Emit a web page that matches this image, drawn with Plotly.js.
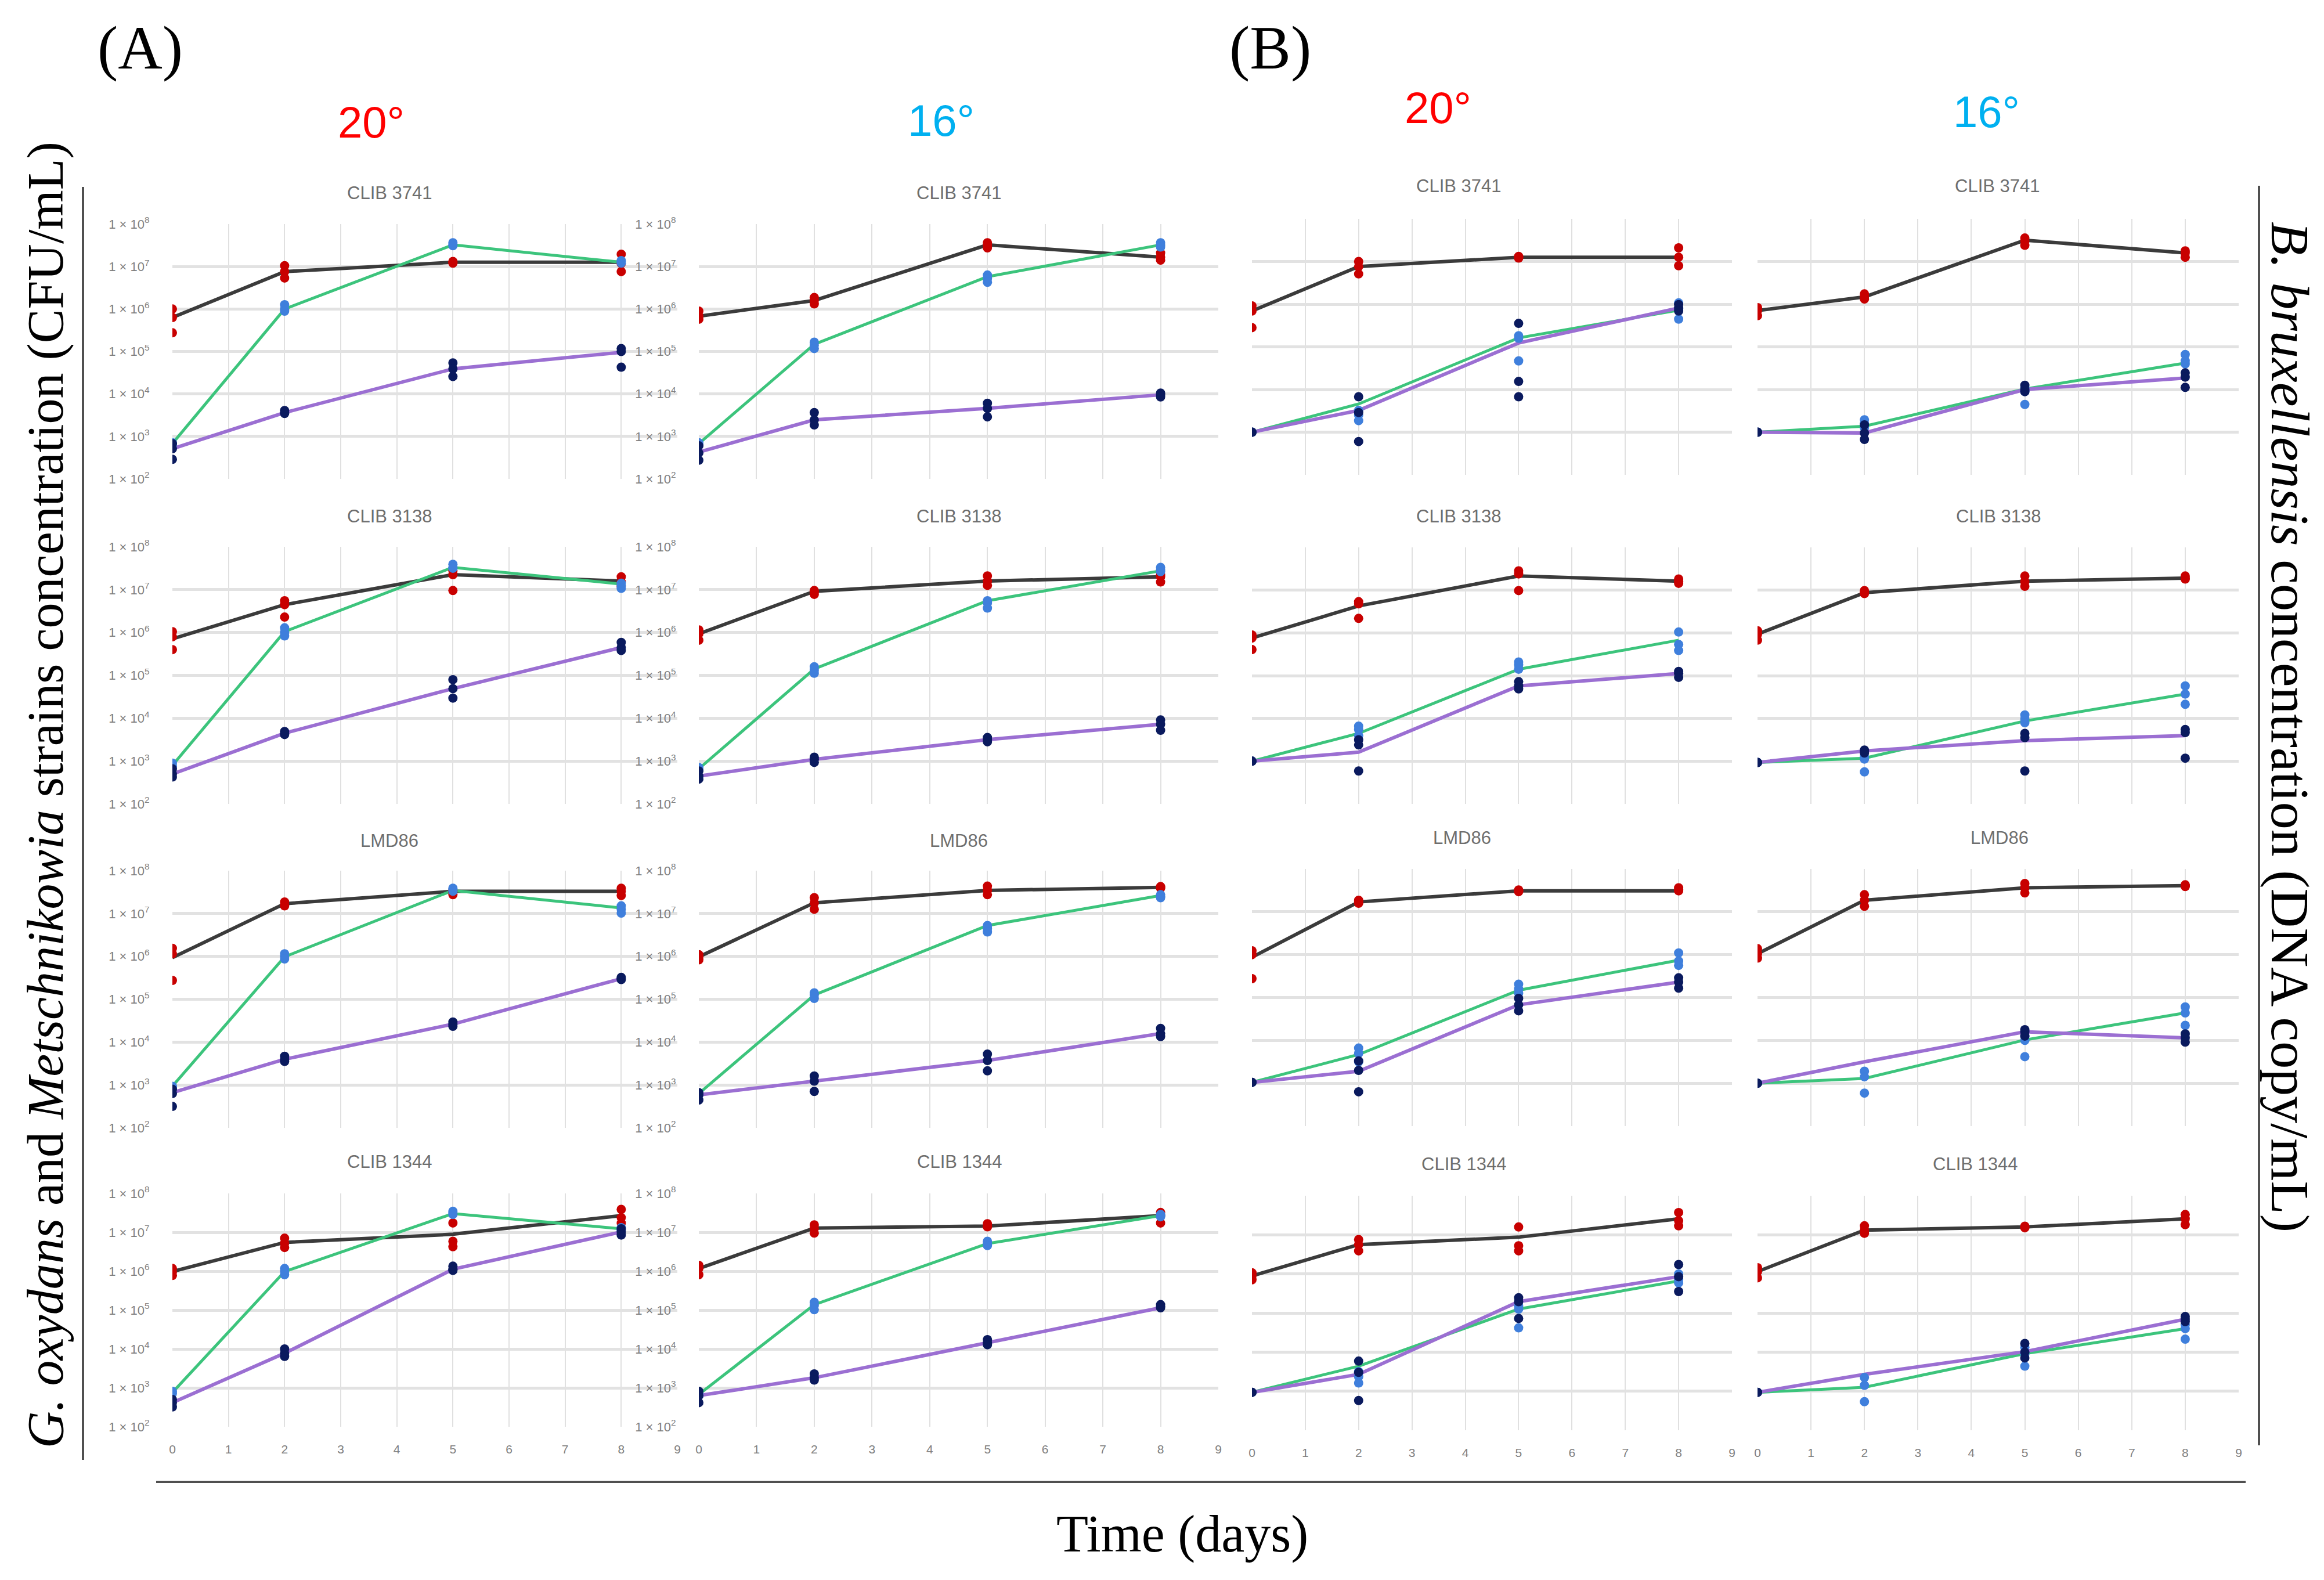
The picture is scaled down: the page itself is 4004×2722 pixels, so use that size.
<!DOCTYPE html>
<html><head><meta charset="utf-8">
<script src="https://cdn.plot.ly/plotly-3.0.1.min.js"></script>
<style>html,body{margin:0;padding:0;background:#fff}</style>
</head><body>
<div id="chart" style="width:4004px;height:2722px"></div>
<script>
// ---------- DATA (values are log10 of concentration) ----------
const days = [0, 2, 5, 8];
const strains = ["CLIB 3741", "CLIB 3138", "LMD86", "CLIB 1344"];
const panelGroups = ["(A)", "(B)"];
const temperatures = ["20°", "16°", "20°", "16°"];
const yTickExp = [2, 3, 4, 5, 6, 7, 8];
const yTickText = ["1 × 10<sup>2</sup>", "1 × 10<sup>3</sup>", "1 × 10<sup>4</sup>", "1 × 10<sup>5</sup>", "1 × 10<sup>6</sup>", "1 × 10<sup>7</sup>", "1 × 10<sup>8</sup>"];
const xTicks = [0, 1, 2, 3, 4, 5, 6, 7, 8, 9];

// Column A 20°
const A20_blackMean = [[5.8,6.88,7.1,7.1],[5.85,6.65,7.35,7.2],[5.97,7.23,7.52,7.52],[5.99,6.74,6.95,7.43]];
const A20_redReps = [
  [[6.0,5.8,5.44],[7.02,6.88,6.73],[7.12,7.1,7.08],[7.29,7.07,6.88]],
  [[6.02,5.9,5.6],[6.74,6.65,6.36],[7.44,7.35,6.98],[7.3,7.18,7.08]],
  [[6.19,6.06,5.44],[7.27,7.2,7.18],[7.54,7.5,7.44],[7.59,7.52,7.42]],
  [[6.07,5.98,5.89],[6.85,6.72,6.61],[7.24,6.77,6.63],[7.59,7.38,7.24]]];
const A20_greenMean = [[2.83,6.0,7.51,7.1],[2.9,6.02,7.52,7.13],[2.97,5.99,7.54,7.13],[2.88,5.99,7.48,7.09]];
const A20_blueReps = [
  [[2.85,2.8],[6.1,6.0,5.95],[7.56,7.52,7.49],[7.14,7.12,7.08]],
  [[2.95,2.88],[6.11,6.0,5.92],[7.59,7.52,7.5],[7.15,7.1,7.03]],
  [[2.97,2.95],[6.06,6.0,5.94],[7.59,7.55,7.52],[7.18,7.1,7.01]],
  [[2.91,2.86],[6.07,6.0,5.91],[7.54,7.5,7.46],[7.12,7.08,7.05]]];
const A20_purpleMean = [[2.71,3.56,4.59,4.98],[2.7,3.65,4.69,5.65],[2.82,3.6,4.42,5.48],[2.62,3.89,6.05,7.01]];
const A20_navyReps = [
  [[2.83,2.71,2.46],[3.61,3.56,3.54],[4.73,4.59,4.41],[5.07,5.0,4.63]],
  [[2.82,2.7,2.63],[3.69,3.65,3.62],[4.9,4.69,4.47],[5.77,5.65,5.58]],
  [[2.9,2.8,2.5],[3.67,3.6,3.55],[4.47,4.42,4.37],[5.51,5.48,5.46]],
  [[2.7,2.62,2.51],[4.0,3.89,3.81],[6.13,6.05,6.02],[7.09,7.01,6.93]]];

// Column A 16°
const A16_blackMean = [[5.83,6.2,7.51,7.22],[5.97,6.96,7.2,7.3],[5.99,7.25,7.54,7.61],[6.07,7.11,7.16,7.43]];
const A16_redReps = [
  [[5.95,5.83,5.76],[6.27,6.2,6.12],[7.56,7.5,7.44],[7.32,7.22,7.15]],
  [[6.06,5.97,5.82],[6.98,6.95,6.89],[7.32,7.2,7.1],[7.35,7.3,7.18]],
  [[6.04,5.99,5.92],[7.37,7.25,7.1],[7.64,7.54,7.44],[7.63,7.61,7.59]],
  [[6.15,6.07,5.91],[7.19,7.1,6.98],[7.22,7.16,7.14],[7.51,7.43,7.24]]];
const A16_greenMean = [[2.83,5.17,6.76,7.51],[2.82,5.15,6.74,7.44],[2.8,5.1,6.72,7.42],[2.83,5.14,6.71,7.43]];
const A16_blueReps = [
  [[2.85,2.8],[5.22,5.15,5.07],[6.8,6.72,6.63],[7.56,7.5,7.46]],
  [[2.85,2.8],[5.2,5.12,5.05],[6.74,6.69,6.57],[7.52,7.46,7.42]],
  [[2.82,2.78],[5.15,5.1,5.02],[6.72,6.65,6.57],[7.44,7.4,7.37]],
  [[2.85,2.8],[5.2,5.12,5.01],[6.77,6.71,6.66],[7.46,7.43,7.4]]];
const A16_purpleMean = [[2.63,3.39,3.66,3.98],[2.65,3.04,3.5,3.86],[2.77,3.09,3.57,4.2],[2.8,3.26,4.16,5.06]];
const A16_navyReps = [
  [[2.78,2.61,2.44],[3.56,3.39,3.27],[3.78,3.66,3.46],[4.02,3.98,3.93]],
  [[2.77,2.65,2.58],[3.09,3.04,2.97],[3.55,3.5,3.45],[3.96,3.86,3.72]],
  [[2.82,2.77,2.65],[3.21,3.09,2.85],[3.72,3.57,3.33],[4.32,4.2,4.13]],
  [[2.91,2.8,2.62],[3.36,3.26,3.2],[4.24,4.16,4.11],[5.14,5.1,5.06]]];

// Column B 20°
const B20_blackMean = [[5.84,6.88,7.1,7.1],[5.88,6.63,7.33,7.21],[5.94,7.23,7.49,7.49],[5.95,6.75,6.94,7.41]];
const B20_redReps = [
  [[5.96,5.84,5.45],[7.0,6.88,6.71],[7.12,7.1,7.08],[7.32,7.1,6.9]],
  [[5.95,5.88,5.61],[6.73,6.68,6.34],[7.45,7.38,6.99],[7.26,7.21,7.16]],
  [[6.09,6.0,5.44],[7.27,7.25,7.2],[7.51,7.49,7.47],[7.56,7.52,7.49]],
  [[6.03,5.95,5.85],[6.88,6.75,6.59],[7.2,6.72,6.59],[7.57,7.36,7.23]]];
const B20_greenMean = [[3.0,3.66,5.21,5.86],[3.0,3.65,5.15,5.83],[3.02,3.67,5.17,5.87],[2.97,3.64,5.1,5.82]];
const B20_blueReps = [
  [[3.0],[3.51,3.4,3.27],[5.26,5.2,4.67],[6.03,5.9,5.65]],
  [[3.0],[3.82,3.74,3.6],[5.32,5.25,5.15],[6.02,5.73,5.59]],
  [[3.02],[3.82,3.7,3.5],[5.31,5.2,5.1],[6.04,5.85,5.75]],
  [[2.97],[3.5,3.37,3.21],[5.18,5.1,4.62],[6.0,5.85,5.77]]];
const B20_purpleMean = [[3.0,3.51,5.09,5.91],[3.0,3.21,4.76,5.05],[3.02,3.28,4.83,5.36],[2.97,3.43,5.29,5.93]];
const B20_navyReps = [
  [[3.0,3.0],[3.83,3.46,2.78],[5.55,4.19,3.83],[5.99,5.91,5.84]],
  [[3.0,3.0],[3.5,3.38,2.77],[4.86,4.76,4.69],[5.1,5.05,4.96]],
  [[3.02,3.02],[3.52,3.3,2.8],[4.98,4.83,4.69],[5.46,5.36,5.22]],
  [[2.97,2.97],[3.77,3.48,2.76],[5.39,5.29,4.86],[6.24,5.93,5.55]]];

// Column B 16°
const B16_blackMean = [[5.85,6.17,7.5,7.2],[5.97,6.94,7.21,7.28],[6.02,7.27,7.56,7.61],[6.06,7.12,7.2,7.41]];
const B16_redReps = [
  [[5.92,5.85,5.73],[6.24,6.17,6.12],[7.55,7.48,7.38],[7.25,7.2,7.1]],
  [[6.05,5.97,5.83],[6.99,6.95,6.92],[7.33,7.2,7.09],[7.33,7.28,7.26]],
  [[6.14,6.02,5.92],[7.4,7.27,7.13],[7.66,7.56,7.44],[7.63,7.61,7.59]],
  [[6.16,6.06,5.9],[7.23,7.12,7.04],[7.22,7.2,7.18],[7.52,7.41,7.26]]];
const B16_greenMean = [[3.0,3.14,4.01,4.62],[2.97,3.07,3.94,4.57],[3.0,3.11,4.01,4.64],[2.97,3.1,3.96,4.6]];
const B16_blueReps = [
  [[3.0],[3.29,3.2,3.1],[4.05,3.95,3.65],[4.82,4.67,4.6]],
  [[2.97],[3.11,3.05,2.75],[4.08,3.99,3.9],[4.76,4.57,4.33]],
  [[3.0],[3.28,3.15,2.77],[4.1,4.0,3.62],[4.78,4.64,4.35]],
  [[2.97],[3.35,3.15,2.73],[4.12,3.95,3.64],[4.7,4.6,4.33]]];
const B16_purpleMean = [[3.0,2.98,4.0,4.27],[2.97,3.24,3.48,3.6],[3.0,3.5,4.2,4.06],[2.97,3.43,4.01,4.84]];
const B16_navyReps = [
  [[3.0,3.0],[3.17,2.98,2.83],[4.1,4.0,3.95],[4.39,4.29,4.05]],
  [[2.97,2.97],[3.26,3.24,3.19],[3.65,3.55,2.77],[3.74,3.67,3.07]],
  [[3.0,3.0],[],[4.25,4.2,4.1],[4.15,4.06,3.96]],
  [[2.97,2.97],[],[4.22,4.0,3.85],[4.91,4.84,4.78]]];

// ---------- LAYOUT / STYLE ----------
const W = 4004, H = 2722;
const px = v => v / W;
const py = v => 1 - v / H;

const colX = [[297, 1167], [1204, 2099], [2157, 2984], [3028, 3857]];
const rowYA = [[386, 825], [942, 1385], [1500, 1943], [2056, 2458]];
const rowYB = [[377, 818], [943, 1385], [1497, 1940], [2060, 2464]];
const titleX = [[671, 1652, 2513, 3441], [671, 1652, 2513, 3443], [671, 1652, 2519, 3445], [671, 1653, 2522, 3403]];
const titleYA = [332, 889, 1448, 2001];
const titleYB = [321, 889, 1443, 2005];

const COL = {black: '#3b3b3b', green: '#3cc47c', purple: '#9b6fd2', red: '#c80000', blue: '#3f7fdc', navy: '#0a1a5e'};
const narrow = '"Liberation Sans Narrow", "Liberation Sans", Arial, sans-serif';
const serif = '"Liberation Serif", "DejaVu Serif", serif';

const columns = [
  {black: A20_blackMean, red: A20_redReps, green: A20_greenMean, blue: A20_blueReps, purple: A20_purpleMean, navy: A20_navyReps},
  {black: A16_blackMean, red: A16_redReps, green: A16_greenMean, blue: A16_blueReps, purple: A16_purpleMean, navy: A16_navyReps},
  {black: B20_blackMean, red: B20_redReps, green: B20_greenMean, blue: B20_blueReps, purple: B20_purpleMean, navy: B20_navyReps},
  {black: B16_blackMean, red: B16_redReps, green: B16_greenMean, blue: B16_blueReps, purple: B16_purpleMean, navy: B16_navyReps}
];

function repXY(reps) {
  const x = [], y = [];
  reps.forEach((vals, i) => vals.forEach(v => { x.push(days[i]); y.push(v); }));
  return {x, y};
}

const traces = [];
const layout = {
  width: W, height: H, autosize: false,
  margin: {l: 0, r: 0, t: 0, b: 0},
  paper_bgcolor: '#ffffff', plot_bgcolor: '#ffffff',
  showlegend: false,
  annotations: [], shapes: []
};

for (let r = 0; r < 4; r++) {
  for (let c = 0; c < 4; c++) {
    const k = r * 4 + c + 1;
    const xa = 'x' + (k === 1 ? '' : k), ya = 'y' + (k === 1 ? '' : k);
    const rowY = c < 2 ? rowYA[r] : rowYB[r];
    layout['xaxis' + (k === 1 ? '' : k)] = {
      domain: [px(colX[c][0]), px(colX[c][1])], anchor: ya,
      range: [0, 9], tickvals: xTicks, showticklabels: r === 3,
      ticks: r === 3 ? 'outside' : '', ticklen: 20, tickcolor: 'rgba(0,0,0,0)',
      tickfont: {size: 21, color: '#808080', family: narrow},
      showgrid: true, gridcolor: '#e0e0e0', gridwidth: 2,
      zeroline: false, showline: false, fixedrange: true
    };
    layout['yaxis' + (k === 1 ? '' : k)] = {
      domain: [py(rowY[1]), py(rowY[0])], anchor: xa,
      range: [2, 8], tickvals: yTickExp, ticktext: yTickText,
      showticklabels: c < 2, ticks: c < 2 ? 'outside' : '', ticklen: 34, tickcolor: 'rgba(0,0,0,0)',
      tickfont: {size: 22, color: '#808080', family: narrow},
      showgrid: true, gridcolor: '#e2e2e2', gridwidth: 5,
      zeroline: false, showline: false, fixedrange: true
    };
    const d = columns[c];
    traces.push({x: days, y: d.black[r], xaxis: xa, yaxis: ya, mode: 'lines', line: {color: COL.black, width: 6}, hoverinfo: 'skip'});
    traces.push({x: days, y: d.green[r], xaxis: xa, yaxis: ya, mode: 'lines', line: {color: COL.green, width: 5}, hoverinfo: 'skip'});
    traces.push({x: days, y: d.purple[r], xaxis: xa, yaxis: ya, mode: 'lines', line: {color: COL.purple, width: 6}, hoverinfo: 'skip'});
    [['red', d.red[r]], ['blue', d.blue[r]], ['navy', d.navy[r]]].forEach(([name, reps]) => {
      const p = repXY(reps);
      traces.push({x: p.x, y: p.y, xaxis: xa, yaxis: ya, mode: 'markers', marker: {color: COL[name], size: 16, line: {width: 0}}, hoverinfo: 'skip'});
    });
    layout.annotations.push({
      text: strains[r], xref: 'paper', yref: 'paper',
      x: px(titleX[r][c]), y: py(c < 2 ? titleYA[r] : titleYB[r]),
      xanchor: 'center', yanchor: 'middle', showarrow: false,
      font: {size: 31, color: '#6e6e6e', family: narrow}
    });
  }
}

// Group labels and temperatures
layout.annotations.push({text: panelGroups[0], xref: 'paper', yref: 'paper', x: px(241), y: py(82), xanchor: 'center', yanchor: 'middle', showarrow: false, font: {size: 106, color: '#000', family: serif}});
layout.annotations.push({text: panelGroups[1], xref: 'paper', yref: 'paper', x: px(2188), y: py(82), xanchor: 'center', yanchor: 'middle', showarrow: false, font: {size: 106, color: '#000', family: serif}});
const tempPos = [[639, 210], [1621, 208], [2477, 186], [3422, 192]];
const tempCol = ['#ff0000', '#00b0f0', '#ff0000', '#00b0f0'];
temperatures.forEach((t, i) => layout.annotations.push({
  text: t, xref: 'paper', yref: 'paper', x: px(tempPos[i][0]), y: py(tempPos[i][1]),
  xanchor: 'center', yanchor: 'middle', showarrow: false,
  font: {size: 76, color: tempCol[i], family: narrow}
}));

// Axis titles
layout.annotations.push({
  text: '<i>G. oxydans</i> and <i>Metschnikowia</i> strains concentration (CFU/mL)',
  xref: 'paper', yref: 'paper', x: px(78), y: py(1370), xanchor: 'center', yanchor: 'middle',
  textangle: -90, showarrow: false, font: {size: 88, color: '#000', family: serif}
});
layout.annotations.push({
  text: '<i>B. bruxellensis</i> concentration (DNA copy/mL)',
  xref: 'paper', yref: 'paper', x: px(3946), y: py(1252), xanchor: 'center', yanchor: 'middle',
  textangle: 90, showarrow: false, font: {size: 94, color: '#000', family: serif}
});
layout.annotations.push({
  text: 'Time (days)', xref: 'paper', yref: 'paper', x: px(2037), y: py(2643),
  xanchor: 'center', yanchor: 'middle', showarrow: false,
  font: {size: 90, color: '#000', family: serif}
});

// Frame lines
const lineStyle = {color: '#505050', width: 4};
layout.shapes.push({type: 'line', xref: 'paper', yref: 'paper', x0: px(143), x1: px(143), y0: py(322), y1: py(2515), line: lineStyle});
layout.shapes.push({type: 'line', xref: 'paper', yref: 'paper', x0: px(3892), x1: px(3892), y0: py(320), y1: py(2490), line: lineStyle});
layout.shapes.push({type: 'line', xref: 'paper', yref: 'paper', x0: px(269), x1: px(3869), y0: py(2553), y1: py(2553), line: lineStyle});

Plotly.newPlot('chart', traces, layout, {staticPlot: true, displayModeBar: false});
</script>
</body></html>
